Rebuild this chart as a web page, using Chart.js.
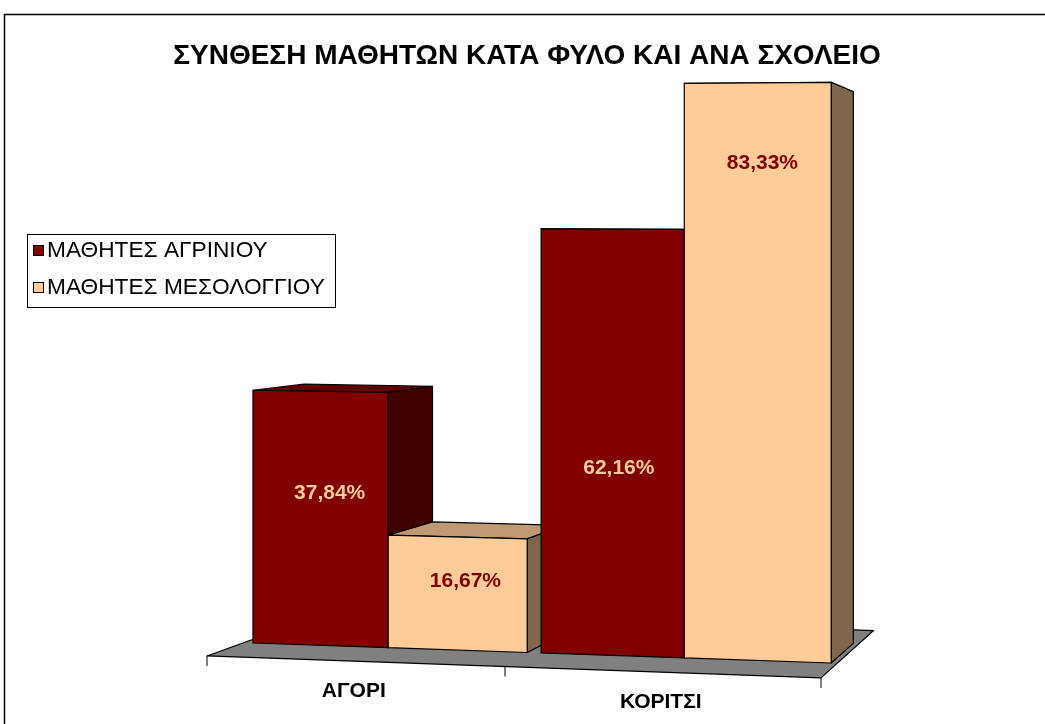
<!DOCTYPE html>
<html><head><meta charset="utf-8">
<script src="https://cdn.jsdelivr.net/npm/chart.js@4.4.0/dist/chart.umd.min.js"></script>
<style>
html,body{margin:0;padding:0;background:#fff;}
canvas{display:block;}
</style></head><body>
<canvas id="c" width="1045" height="724"></canvas>
<script>
// ---- data ----
const chartTitle = 'ΣΥΝΘΕΣΗ ΜΑΘΗΤΩΝ ΚΑΤΑ ΦΥΛΟ ΚΑΙ ΑΝΑ ΣΧΟΛΕΙΟ';
const categories = ['ΑΓΟΡΙ', 'ΚΟΡΙΤΣΙ'];
const seriesNames = ['ΜΑΘΗΤΕΣ ΑΓΡΙΝΙΟΥ', 'ΜΑΘΗΤΕΣ ΜΕΣΟΛΟΓΓΙΟΥ'];
const agrinio = [37.84, 62.16];
const mesologgi = [16.67, 83.33];

// ---- styles ----
const frontColors = ['#800000', '#FFCC99'];
const sideColors = ['#400000', '#80664D'];
const topColors = ['#600000', '#BF9973'];
const labelColors = ['#FFCC99', '#800000'];
const labelFrac = [[0.60, 0.44], [0.61, 0.86]];
const FONT = '"Liberation Sans", Arial, sans-serif';

function fmt(v){ return v.toFixed(2).replace('.', ',') + '%'; }

const bar3d = {
  id: 'bar3d',
  afterDatasetsDraw(chart){
    const ctx = chart.ctx, ca = chart.chartArea;
    const ys = chart.scales.y;
    const K = 0.05, VPX = ca.right + 468, VPY = ca.top + 228;
    const CW = 1.06e-4, X0 = ca.left + 6.6, YE = ca.top + 138, AY = 7.47e-5;
    function warp(x, y, z){
      const x1 = x + CW * (x - X0) * (x - X0);
      const y1 = y + (y - YE) * AY * (x1 - X0);
      const t = K * z;
      return [x1 + t * (VPX - x1), y1 + t * (VPY - y1)];
    }
    function poly(pts, fill){
      ctx.beginPath();
      ctx.moveTo(pts[0][0], pts[0][1]);
      for (let i = 1; i < pts.length; i++) ctx.lineTo(pts[i][0], pts[i][1]);
      ctx.closePath();
      ctx.fillStyle = fill; ctx.fill();
      ctx.stroke();
    }
    ctx.save();
    ctx.lineJoin = 'round';
    ctx.strokeStyle = '#000';
    ctx.lineWidth = 1.2;

    // floor
    const base = ys.getPixelForValue(0);
    const fy = base + 14.6;
    const fl = ca.left - 39.6, fr = ca.right - 15.7, fd = 2.32;
    poly([warp(fl, fy, 0), warp(fr, fy, 0), warp(fr, fy, fd), warp(fl, fy, fd)], '#808080');
    // ticks
    [fl, (fl + fr) / 2, fr].forEach(x => {
      const p = warp(x, fy, 0);
      ctx.beginPath(); ctx.moveTo(p[0], p[1]); ctx.lineTo(p[0], p[1] + 10); ctx.lineWidth = 1; ctx.stroke();
    });
    ctx.lineWidth = 1.2;

    // bars, left to right
    const items = [];
    chart.data.datasets.forEach((ds, di) => {
      chart.getDatasetMeta(di).data.forEach((el, i) => {
        items.push({el, di, i, v: ds.data[i]});
      });
    });
    items.sort((a, b) => a.el.x - b.el.x);
    items.forEach(({el, di}) => {
      const p = el.getProps(['x', 'y', 'base', 'width'], true);
      const l = p.x - p.width / 2, r = p.x + p.width / 2, t = p.y, b = p.base;
      poly([warp(l, t, 0), warp(r, t, 0), warp(r, t, 1), warp(l, t, 1)], topColors[di]);
      poly([warp(r, t, 0), warp(r, t, 1), warp(r, b, 1), warp(r, b, 0)], sideColors[di]);
      poly([warp(l, t, 0), warp(r, t, 0), warp(r, b, 0), warp(l, b, 0)], frontColors[di]);
    });

    // value labels
    ctx.font = 'bold 21px ' + FONT;
    ctx.textAlign = 'center'; ctx.textBaseline = 'middle';
    items.forEach(({el, di, i, v}) => {
      const p = el.getProps(['x', 'y', 'base', 'width'], true);
      const yy = p.base + (p.y - p.base) * labelFrac[di][i];
      const px = warp(p.x, yy, 0.2)[0];
      const py = warp(p.x, yy, 0)[1];
      ctx.fillStyle = labelColors[di];
      ctx.fillText(fmt(v), px, py);
    });

    // category labels
    ctx.fillStyle = '#000';
    ctx.font = 'bold 21px ' + FONT;
    categories.forEach((c, i) => {
      const x = fl + (fr - fl) * (i + 0.5) / 2;
      const p = warp(x, fy, 0);
      ctx.fillText(c, p[0], p[1] + 30);
    });
    ctx.restore();
  },
  afterDraw(chart){
    const ctx = chart.ctx;
    ctx.save();
    // outer frame
    ctx.strokeStyle = '#000'; ctx.lineWidth = 1.5;
    ctx.strokeRect(4.5, 14.5, 1200, 900);
    // title
    ctx.fillStyle = '#000';
    ctx.font = 'bold 28px ' + FONT;
    ctx.textAlign = 'center'; ctx.textBaseline = 'middle';
    ctx.fillText(chartTitle, 527, 56);
    // legend
    ctx.lineWidth = 1;
    ctx.strokeRect(27.5, 234.5, 308, 73);
    ctx.font = '22.7px ' + FONT;
    ctx.textAlign = 'left';
    chart.data.datasets.forEach((ds, di) => {
      const cy = 250 + di * 37;
      ctx.fillStyle = frontColors[di];
      ctx.fillRect(33.5, cy - 4.5, 10, 10);
      ctx.strokeRect(33.5, cy - 4.5, 10, 10);
      ctx.fillStyle = '#000';
      ctx.fillText(ds.label, 47, cy + 1);
    });
    ctx.restore();
  }
};

new Chart(document.getElementById('c').getContext('2d'), {
  type: 'bar',
  data: {
    labels: categories,
    datasets: [
      {label: seriesNames[0], data: agrinio, backgroundColor: 'rgba(0,0,0,0)', borderWidth: 0},
      {label: seriesNames[1], data: mesologgi, backgroundColor: 'rgba(0,0,0,0)', borderWidth: 0}
    ]
  },
  options: {
    responsive: false,
    animation: false,
    layout: {padding: {left: 246.4, right: 238.9, top: 41.8, bottom: 81}},
    datasets: {bar: {categoryPercentage: 0.953, barPercentage: 1}},
    scales: {
      x: {display: false, offset: true},
      y: {display: false, min: 0, max: 90}
    },
    plugins: {legend: {display: false}, title: {display: false}, tooltip: {enabled: false}}
  },
  plugins: [bar3d]
});
</script>
</body></html>
